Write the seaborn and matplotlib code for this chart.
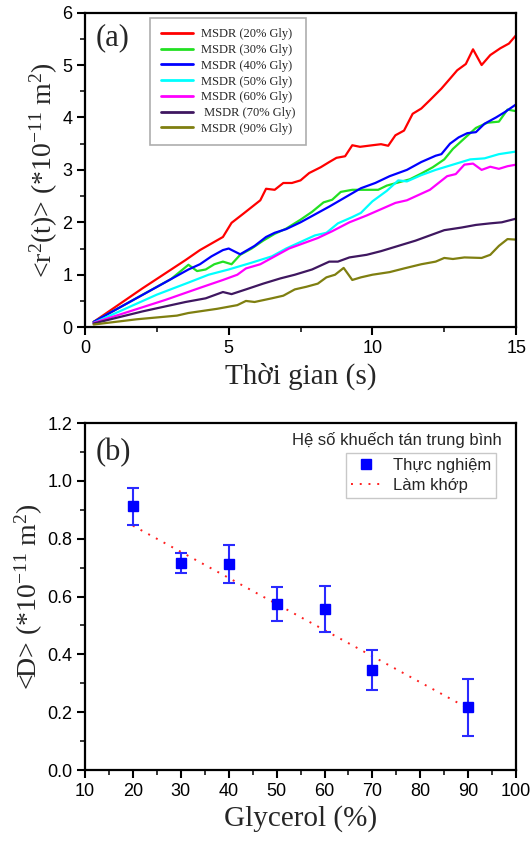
import numpy as np
import pandas as pd
import seaborn as sns
import matplotlib
matplotlib.use("Agg")
import matplotlib.pyplot as plt
from matplotlib.ticker import MultipleLocator
from matplotlib.lines import Line2D

# Du lieu panel (a): MSDR theo thoi gian cho tung nong do glycerol
t_20 = [0.3, 2.0, 3.5, 4.0, 4.8, 5.1, 5.5, 5.8, 6.1, 6.3, 6.6, 6.9, 7.2, 7.5, 7.8, 8.2, 8.5, 8.75,
        9.05, 9.3, 9.57, 10.0, 10.3, 10.55, 10.8, 11.1, 11.4, 11.7, 12.0, 12.4, 12.7, 12.95, 13.25,
        13.5, 13.8, 14.1, 14.45, 14.75, 15.0]
y_20 = [0.1, 0.74, 1.28, 1.47, 1.72, 1.99, 2.16, 2.29, 2.42, 2.64, 2.62, 2.75, 2.75, 2.8, 2.94, 3.05,
        3.15, 3.23, 3.26, 3.47, 3.44, 3.47, 3.49, 3.46, 3.66, 3.75, 4.07, 4.17, 4.33, 4.55, 4.74, 4.9,
        5.02, 5.3, 5.0, 5.19, 5.32, 5.41, 5.57]

t_30 = [0.3, 3.0, 3.6, 3.9, 4.2, 4.5, 4.8, 5.1, 5.4, 5.8, 6.2, 6.6, 7.0, 7.5, 7.9, 8.3, 8.6, 8.9, 9.3,
        9.7, 10.2, 10.5, 10.9, 11.3, 11.7, 12.1, 12.5, 12.8, 13.2, 13.6, 14.0, 14.4, 14.7, 15.0]
y_30 = [0.1, 0.92, 1.19, 1.07, 1.1, 1.2, 1.25, 1.2, 1.38, 1.5, 1.65, 1.78, 1.88, 2.05, 2.2, 2.38, 2.43,
        2.58, 2.62, 2.62, 2.62, 2.7, 2.76, 2.82, 2.93, 3.05, 3.2, 3.4, 3.6, 3.8, 3.9, 3.92, 4.15, 4.12]

t_40 = [0.3, 3.6, 4.0, 4.4, 4.8, 5.0, 5.4, 5.9, 6.3, 6.6, 7.0, 7.5, 8.5, 9.6, 10.1, 10.6, 11.2, 11.7,
        12.2, 12.4, 12.7, 13.0, 13.3, 13.6, 13.9, 14.3, 14.6, 15.0]
y_40 = [0.1, 1.1, 1.2, 1.35, 1.47, 1.5, 1.39, 1.55, 1.72, 1.8, 1.87, 2.0, 2.3, 2.65, 2.75, 2.88, 3.0,
        3.15, 3.27, 3.3, 3.5, 3.62, 3.7, 3.72, 3.88, 4.0, 4.1, 4.25]

t_50 = [0.3, 2.5, 3.6, 4.3, 5.0, 5.8, 6.5, 7.0, 7.6, 8.0, 8.4, 8.8, 9.3, 9.6, 10.0, 10.5, 10.9, 11.2,
        11.7, 12.2, 12.8, 13.4, 13.9, 14.4, 15.0]
y_50 = [0.08, 0.62, 0.85, 1.0, 1.1, 1.23, 1.35, 1.5, 1.65, 1.75, 1.8, 1.98, 2.1, 2.18, 2.4, 2.6, 2.8,
        2.78, 2.9, 3.0, 3.1, 3.2, 3.22, 3.3, 3.35]

t_60 = [0.3, 2.8, 4.0, 4.8, 5.3, 5.6, 6.1, 6.6, 7.1, 7.6, 8.1, 8.6, 9.2, 9.8, 10.3, 10.8, 11.2, 11.6,
        12.0, 12.3, 12.6, 12.9, 13.2, 13.5, 13.8, 14.1, 14.4, 14.7, 15.0]
y_60 = [0.08, 0.52, 0.75, 0.9, 1.0, 1.12, 1.2, 1.35, 1.5, 1.6, 1.7, 1.83, 2.0, 2.13, 2.25, 2.37, 2.42,
        2.52, 2.62, 2.75, 2.88, 2.92, 3.1, 3.12, 3.0, 3.06, 3.02, 3.07, 3.1]

t_70 = [0.3, 2.0, 3.5, 4.2, 4.8, 5.1, 5.6, 6.2, 6.8, 7.3, 7.9, 8.5, 8.8, 9.2, 9.8, 10.3, 10.9, 11.5,
        12.0, 12.5, 13.1, 13.6, 14.1, 14.5, 15.0]
y_70 = [0.07, 0.3, 0.48, 0.55, 0.67, 0.63, 0.72, 0.83, 0.93, 1.0, 1.1, 1.25, 1.25, 1.33, 1.38, 1.45,
        1.55, 1.65, 1.75, 1.85, 1.9, 1.95, 1.98, 2.0, 2.07]

t_90 = [0.3, 1.8, 3.2, 3.6, 4.6, 5.3, 5.6, 5.9, 6.5, 6.9, 7.3, 7.7, 8.1, 8.4, 8.7, 9.0, 9.3, 9.6,
        10.0, 10.6, 11.1, 11.7, 12.2, 12.5, 12.8, 13.2, 13.8, 14.1, 14.4, 14.7, 15.0]
y_90 = [0.05, 0.15, 0.22, 0.27, 0.35, 0.42, 0.5, 0.48, 0.55, 0.6, 0.72, 0.77, 0.83, 0.95, 1.0, 1.13,
        0.9, 0.95, 1.0, 1.05, 1.12, 1.2, 1.25, 1.32, 1.3, 1.33, 1.32, 1.38, 1.55, 1.68, 1.67]

nhan = ["MSDR (20% Gly)", "MSDR (30% Gly)", "MSDR (40% Gly)", "MSDR (50% Gly)",
        "MSDR (60% Gly)", " MSDR (70% Gly)", "MSDR (90% Gly)"]
mau = ["#ff0000", "#22e022", "#0000ff", "#00ffff", "#ff00ff", "#3f1760", "#7f7f10"]

# Du lieu panel (b): he so khuech tan trung binh
glycerol = [20, 30, 40, 50, 60, 70, 90]
D_tb = [0.912, 0.716, 0.712, 0.574, 0.557, 0.346, 0.217]
D_sai_so = [0.065, 0.035, 0.066, 0.058, 0.078, 0.07, 0.098]
fit_x = [20, 90]
fit_y = [0.845, 0.213]

sns.set_theme(style="ticks")
plt.rcParams["font.family"] = ["Liberation Sans", "DejaVu Sans"]
plt.rcParams["mathtext.fontset"] = "custom"
plt.rcParams["mathtext.rm"] = "Liberation Serif"
plt.rcParams["mathtext.it"] = "Liberation Serif:italic"

serif = ["Liberation Serif", "DejaVu Serif"]

fig = plt.figure(figsize=(5.31, 8.41), dpi=100)
ax1 = fig.add_axes([0.160, 0.611, 0.812, 0.374])
ax2 = fig.add_axes([0.160, 0.0844, 0.812, 0.4126])

# ----- panel (a)
ts = [t_20, t_30, t_40, t_50, t_60, t_70, t_90]
ys = [y_20, y_30, y_40, y_50, y_60, y_70, y_90]
df_a = pd.concat([pd.DataFrame({"t": t, "msd": y, "mau": n}) for t, y, n in zip(ts, ys, nhan)])
sns.lineplot(data=df_a, x="t", y="msd", hue="mau", palette=dict(zip(nhan, mau)),
             estimator=None, sort=False, linewidth=1.6, ax=ax1, legend=False)

ax1.set_xlim(0, 15)
ax1.set_ylim(0, 6)
ax1.xaxis.set_major_locator(MultipleLocator(5))
ax1.xaxis.set_minor_locator(MultipleLocator(2.5))
ax1.yaxis.set_major_locator(MultipleLocator(1))
ax1.yaxis.set_minor_locator(MultipleLocator(0.5))
ax1.set_xlabel("Thời gian (s)", family=serif, fontsize=21, labelpad=4)
ax1.set_ylabel("<r$^{2}$(t)> (*10$^{-11}$ m$^{2}$)", family=serif, fontsize=20, labelpad=2)
ax1.text(0.025, 0.92, "(a)", transform=ax1.transAxes, family=serif, fontsize=22, va="center")

handles = [Line2D([], [], color=c, lw=2) for c in mau]
leg1 = ax1.legend(handles, nhan, loc="upper left", bbox_to_anchor=(0.151, 0.984),
                  borderaxespad=0, prop={"family": serif, "size": 9}, frameon=True,
                  fancybox=False, edgecolor="#999999", handlelength=2.6, labelspacing=0.3,
                  borderpad=0.85, handletextpad=0.6)
leg1.get_frame().set_linewidth(1.2)

# ----- panel (b)
df_b = pd.DataFrame({"g": glycerol, "D": D_tb, "err": D_sai_so})
sns.lineplot(x=fit_x, y=fit_y, color="#ff2020", linestyle=(0, (1, 3.5)), linewidth=1.4, ax=ax2)
ax2.errorbar(df_b["g"], df_b["D"], yerr=df_b["err"], fmt="s", color="#0000ff", ecolor="#2a2aff",
             markersize=7, capsize=4, elinewidth=1.5, capthick=1.5)

ax2.set_xlim(10, 100)
ax2.set_ylim(0, 1.2)
ax2.xaxis.set_major_locator(MultipleLocator(10))
ax2.xaxis.set_minor_locator(MultipleLocator(5))
ax2.yaxis.set_major_locator(MultipleLocator(0.2))
ax2.yaxis.set_minor_locator(MultipleLocator(0.1))
ax2.yaxis.set_major_formatter(matplotlib.ticker.FormatStrFormatter("%.1f"))
ax2.set_xlabel("Glycerol (%)", family=serif, fontsize=21, labelpad=4)
ax2.set_ylabel("<D> (*10$^{-11}$ m$^{2}$)", family=serif, fontsize=20, labelpad=2)
ax2.text(0.025, 0.916, "(b)", transform=ax2.transAxes, family=serif, fontsize=22, va="center")
ax2.text(0.967, 0.95, "Hệ số khuếch tán trung bình", transform=ax2.transAxes,
         fontsize=12, ha="right", va="center")

h_b = [Line2D([], [], marker="s", color="#0000ff", linestyle="none", markersize=7),
       Line2D([], [], color="#ff2020", linestyle=(0, (1, 3.5)), lw=1.4)]
leg2 = ax2.legend(h_b, ["Thực nghiệm", "Làm khớp"], loc="upper right",
                  bbox_to_anchor=(0.953, 0.9135), borderaxespad=0, prop={"size": 12},
                  frameon=True, fancybox=False, edgecolor="#bbbbbb", handlelength=1.8,
                  labelspacing=0.3, borderpad=0.3, handletextpad=0.7)
leg2.get_frame().set_linewidth(1.0)

for ax in (ax1, ax2):
    for s in ax.spines.values():
        s.set_linewidth(1.6)
        s.set_color("black")
    ax.tick_params(which="major", direction="out", length=6, width=1.5, labelsize=13,
                   top=False, right=False, pad=3, colors="black")
    ax.tick_params(which="minor", direction="out", length=3.5, width=1.3,
                   top=False, right=False)
    ax.set_facecolor("white")

fig.savefig("out.png", dpi=100, facecolor="white")
